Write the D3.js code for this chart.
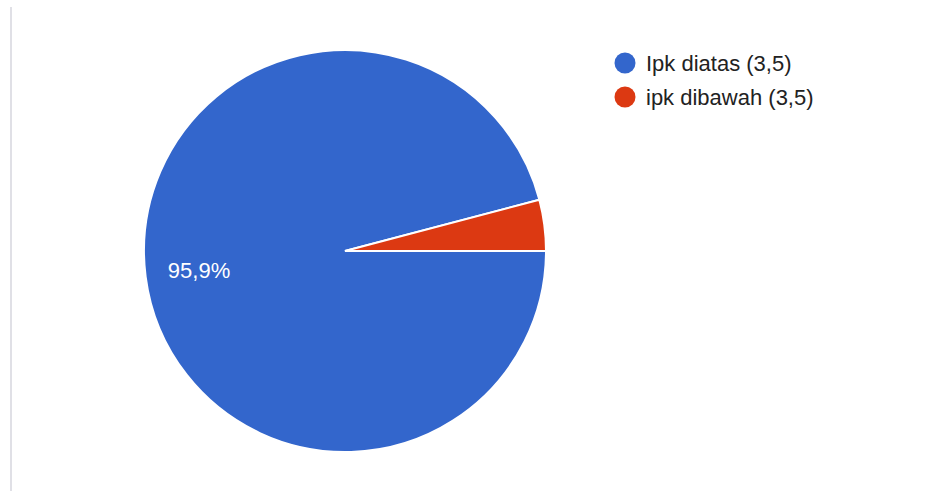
<!DOCTYPE html>
<html>
<head>
<meta charset="utf-8">
<script src="https://cdn.jsdelivr.net/npm/d3@7"></script>
<style>
  body { margin: 0; background: #fff; }
  text { font-family: 'Liberation Sans', Arial, sans-serif; }
</style>
</head>
<body>
<div id="chart"></div>
<script>
const categories = ['Ipk diatas (3,5)', 'ipk dibawah (3,5)']
const values = [95.9, 4.1]
const colors = ['#3366cc', '#dc3912']

const width = 925
const height = 497

const svg = d3
  .select('#chart')
  .append('svg')
  .attr('width', width)
  .attr('height', height)

// left gray frame line
svg
  .append('rect')
  .attr('x', 10)
  .attr('y', 7)
  .attr('width', 2)
  .attr('height', 484)
  .attr('fill', '#e0e0e6')

const cx = 345
const cy = 251
const radius = 201

const data = categories.map((c, i) => ({ name: c, value: values[i], color: colors[i] }))

// start at 3 o'clock, go clockwise
const pie = d3
  .pie()
  .sort(null)
  .value(d => d.value)
  .startAngle(Math.PI / 2)
  .endAngle(Math.PI / 2 + 2 * Math.PI)

const arc = d3.arc().innerRadius(0).outerRadius(radius)

const g = svg.append('g').attr('transform', 'translate(' + cx + ',' + cy + ')')

const arcs = pie(data)

g.selectAll('path')
  .data(arcs)
  .enter()
  .append('path')
  .attr('d', arc)
  .attr('fill', d => d.data.color)
  .attr('stroke', '#fff')
  .attr('stroke-width', 2)

// percentage label only on the big slice
const total = d3.sum(values)
g.selectAll('.label')
  .data(arcs.filter(d => d.data.value / total > 0.05))
  .enter()
  .append('text')
  .attr('class', 'label')
  .attr('x', -146)
  .attr('y', 27)
  .attr('fill', '#fff')
  .attr('font-size', 22)
  .attr('text-anchor', 'middle')
  .text(d => d.data.value.toFixed(1).replace('.', ',') + '%')

// legend
const legend = svg
  .selectAll('.legend')
  .data(data)
  .enter()
  .append('g')
  .attr('class', 'legend')
  .attr('transform', (d, i) => 'translate(625,' + (63 + i * 34) + ')')

legend
  .append('circle')
  .attr('r', 10.5)
  .attr('fill', d => d.color)

legend
  .append('text')
  .attr('x', 21)
  .attr('y', 8)
  .attr('font-size', 22)
  .attr('fill', '#222')
  .text(d => d.name)
</script>
</body>
</html>
